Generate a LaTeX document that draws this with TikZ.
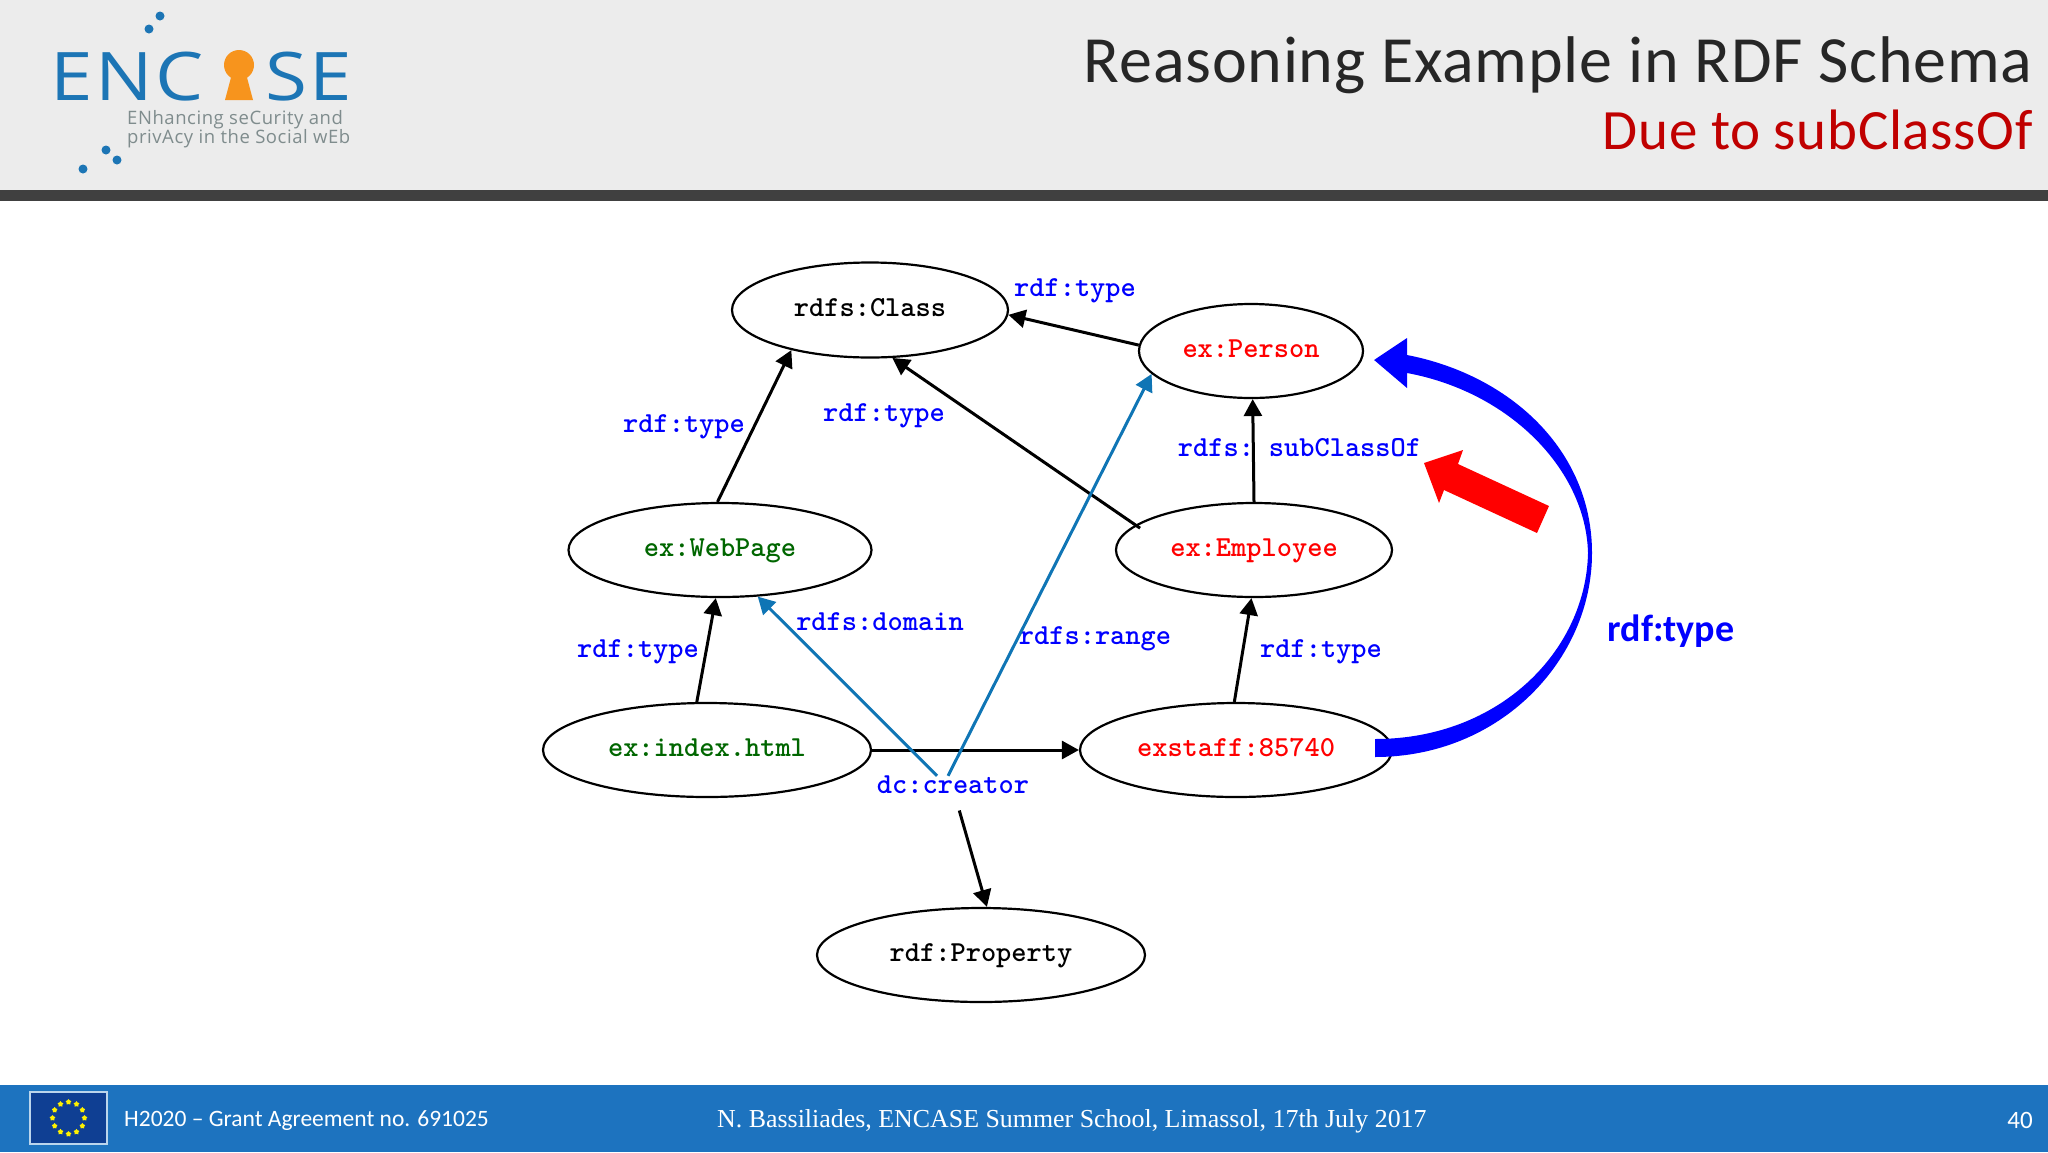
\documentclass[tikz,border=0pt]{standalone}
\usepackage{fontspec}
\usepackage{tikz}
\usetikzlibrary{arrows.meta,shapes.geometric}
\newfontfamily\slidefont{Carlito}
\newfontfamily\titlefont[LetterSpace=1.2]{Carlito}
\newfontfamily\logofont[FakeStretch=1.14,LetterSpace=4]{Open Sans}
\newfontfamily\smalllogofont[LetterSpace=3]{Open Sans}
\newfontfamily\footfont{Liberation Serif}
\definecolor{headgray}{HTML}{ECECEC}
\definecolor{bandgray}{HTML}{404040}
\definecolor{footblue}{HTML}{1D73BF}
\definecolor{flagblue}{HTML}{0F3F93}
\definecolor{logoblue}{HTML}{1C75B5}
\definecolor{logotext}{HTML}{7F8C8D}
\definecolor{keyorange}{HTML}{F7941D}
\definecolor{linkblue}{HTML}{0F75B5}
\definecolor{darkred}{HTML}{C00000}
\definecolor{webgreen}{HTML}{006600}
\newcommand{\rdffont}{\ttfamily\bfseries\addfontfeatures{FakeBold=0.6}\fontsize{29}{30}\selectfont}
\tikzset{
	rdfnode/.style={draw=black,line width=2.2pt,ellipse,inner sep=0pt,text height=17pt,text depth=5pt,font=\rdffont},
	rdflabel/.style={inner sep=0pt,text=blue,font=\rdffont},
	rdfedge/.style={line width=3pt,-{Triangle[length=17pt,width=18pt]}},
	rangeedge/.style={line width=3pt,linkblue,-{Triangle[length=17pt,width=18pt]}},
	logodot/.style={circle,fill=logoblue,inner sep=0pt,minimum size=9pt},
	eustar/.style={star,star points=5,fill=yellow,inner sep=0pt,minimum size=6pt},
	foottext/.style={inner sep=0pt,text=white}
}
\begin{document}
\begin{tikzpicture}[x=1pt,y=-1pt]
	\useasboundingbox (0,0) rectangle (2048,1152);
	% header and footer
	\fill[headgray] (0,0) rectangle (2048,190);
	\fill[bandgray] (0,190) rectangle (2048,201);
	\fill[footblue] (0,1085) rectangle (2048,1152);
	% logo
	\node[anchor=west,inner sep=0pt,text depth=0pt,text=logoblue,font=\logofont\fontsize{67}{70}\selectfont] (logoa) at (50,76) {ENC};
	\node[anchor=west,inner sep=0pt,text depth=0pt,text=logoblue,font=\logofont\fontsize{67}{70}\selectfont] (logob) at (265,76) {SE};
	\fill[keyorange] (239,65) circle (15);
	\fill[keyorange] (233,70) -- (245,70) -- (253,100) -- (225,100) -- cycle;
	\node[anchor=west,inner sep=0pt,text=logotext,font=\smalllogofont\fontsize{18.5}{20}\selectfont] (logoc) at (127,119.5) {ENhancing seCurity and};
	\node[anchor=west,inner sep=0pt,text=logotext,font=\smalllogofont\fontsize{18.5}{20}\selectfont] (logod) at (127,139) {privAcy in the Social wEb};
	\node[logodot] (dota) at (160,16) {};
	\node[logodot] (dotb) at (149,29) {};
	\node[logodot] (dotc) at (106,150) {};
	\node[logodot] (dotd) at (117,160) {};
	\node[logodot] (dote) at (83,169) {};
	% title
	\node[anchor=east,inner sep=0pt,text=black!85,font=\titlefont\fontsize{66}{70}\selectfont] (title) at (2033,65) {Reasoning Example in RDF Schema};
	\node[anchor=east,inner sep=0pt,text=darkred,font=\titlefont\fontsize{57}{60}\selectfont] (subtitle) at (2033,130) {Due to subClassOf};
	% graph nodes
	\node[rdfnode,minimum width=276pt,minimum height=95pt] (class) at (870,310) {rdfs:Class};
	\node[rdfnode,minimum width=224pt,minimum height=94pt,text=red] (person) at (1251,351) {ex:Person};
	\node[rdfnode,minimum width=303pt,minimum height=94pt,text=webgreen] (webpage) at (720,550) {ex:WebPage};
	\node[rdfnode,minimum width=276pt,minimum height=94pt,text=red] (employee) at (1254,550) {ex:Employee};
	\node[rdfnode,minimum width=328pt,minimum height=94pt,text=webgreen] (index) at (707,750) {ex:index.html};
	\node[rdfnode,minimum width=312pt,minimum height=94pt,text=red] (exstaff) at (1236,750) {exstaff:85740};
	\node[rdfnode,minimum width=328pt,minimum height=94pt] (property) at (981,955) {rdf:Property};
	% labels
	\node[rdflabel] (typea) at (1075,291) {rdf:type};
	\node[rdflabel] (typeb) at (684,427) {rdf:type};
	\node[rdflabel] (typec) at (884,416) {rdf:type};
	\node[rdflabel] (subleft) at (1216,448) {rdfs:};
	\node[rdflabel] (subright) at (1345,448) {subClassOf};
	\node[rdflabel] (domain) at (880,622) {rdfs:domain};
	\node[rdflabel] (range) at (1095,639) {rdfs:range};
	\node[rdflabel] (typed) at (638,652) {rdf:type};
	\node[rdflabel] (typee) at (1321,652) {rdf:type};
	\node[rdflabel] (creator) at (953,785) {dc:creator};
	\node[inner sep=0pt,text=blue,font=\slidefont\bfseries\fontsize{38}{40}\selectfont] (typebig) at (1671,631) {rdf:type};
	% connectors
	\draw[rdfedge] (person.177) -- (class.-2);
	\draw[rdfedge] (webpage.93) -- (class.207);
	\draw[rdfedge] ([xshift=10pt]employee.170) -- (class.-65);
	\draw[rdfedge] (employee.north) -- (person.272);
	\draw[rdfedge] (exstaff.92) -- (employee.267);
	\draw[rdfedge] (index.102) -- (webpage.265);
	\draw[rdfedge] (index.east) -- (exstaff.west);
	\draw[rdfedge,shorten <=17pt] (creator.-80) -- (property.83);
	\draw[rangeedge] ([xshift=-16pt]creator.north) -- (webpage.-51);
	\draw[rangeedge] ([xshift=-5pt]creator.north) -- (person.193);
	% big arrows
	\coordinate (bigstart) at ([shift={(-18,-2)}]exstaff.east);
	\coordinate (bigtip) at ([shift={(10,9)}]person.east);
	\fill[blue] ([shift={(0,-9)}]bigstart) .. controls (1500,739) and (1586,650) .. (1588,553)
		.. controls (1586,470) and (1510,392) .. (1407,373)
		-- (1407,388) -- (bigtip) -- (1407,338) -- (1407,355)
		.. controls (1510,375) and (1592,450) .. (1592,553)
		.. controls (1592,660) and (1500,757) .. ([shift={(0,9)}]bigstart) -- cycle;
	\fill[red] (1424,463) -- (1463,450) -- (1458,464) -- (1549,506) -- (1537,533) -- (1444,490) -- (1439,503) -- cycle;
	% footer
	\node[draw=white!70!footblue,line width=1.5pt,fill=flagblue,minimum width=77pt,minimum height=52pt,inner sep=0pt] (flag) at (68.5,1118) {};
	\foreach \a in {0,30,...,330}
		\node[eustar] (star\a) at ([shift={(\a:16)}]flag.center) {};
	\node[foottext,anchor=west,font=\slidefont\fontsize{23.5}{28}\selectfont] (grant) at (124,1121) {H2020 – Grant Agreement no. 691025};
	\node[foottext,anchor=west,font=\footfont\fontsize{25.9}{28}\selectfont] (school) at (717,1121) {N. Bassiliades, ENCASE Summer School, Limassol, 17th July 2017};
	\node[foottext,anchor=east,font=\slidefont\fontsize{25}{28}\selectfont] (page) at (2033,1120) {40};
\end{tikzpicture}
\end{document}
